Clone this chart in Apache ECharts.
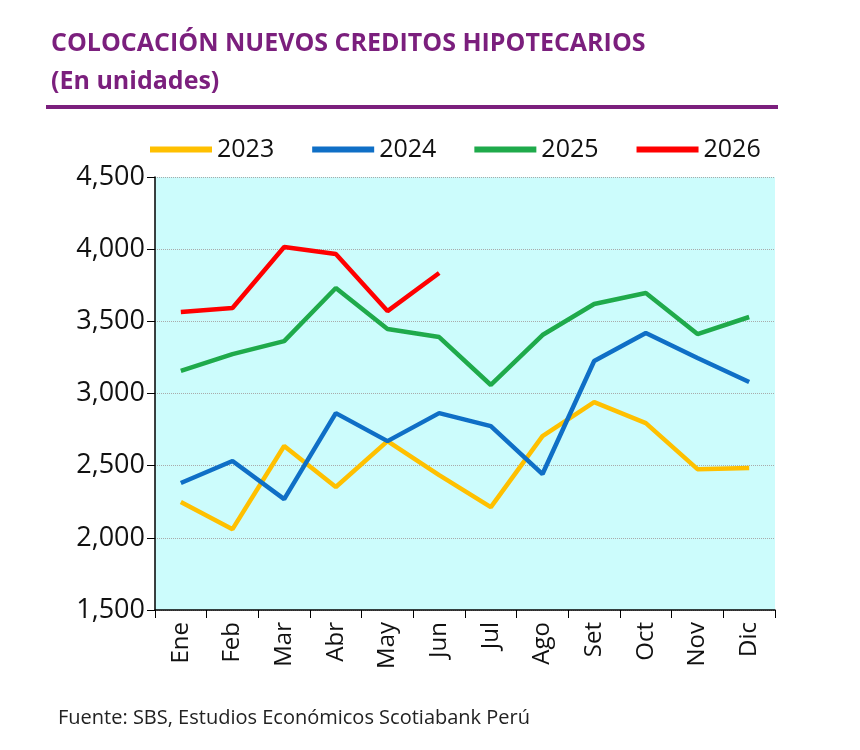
<!DOCTYPE html>
<html>
<head>
<meta charset="utf-8">
<script src="https://cdn.jsdelivr.net/npm/echarts@6/dist/echarts.min.js"></script>
<style>body{margin:0;background:#fff}#c{width:860px;height:750px}</style>
</head>
<body>
<div id="c"></div>
<script>
var months = ['Ene','Feb','Mar','Abr','May','Jun','Jul','Ago','Set','Oct','Nov','Dic']
var data = {
  '2023': [2248,2060,2636,2352,2670,2435,2213,2705,2940,2795,2476,2483],
  '2024': [2380,2532,2268,2864,2670,2864,2774,2442,3225,3419,3246,3080],
  '2025': [3156,3273,3363,3731,3447,3391,3059,3405,3620,3696,3412,3530],
  '2026': [3564,3592,4015,3966,3571,3835]
}
var colors = {'2023':'#ffc000','2024':'#0f6fc6','2025':'#1faa4b','2026':'#ff0000'}
var chart = echarts.init(document.getElementById('c'))
chart.setOption({
  animation: false,
  title: {
    text: 'COLOCACIÓN NUEVOS CREDITOS HIPOTECARIOS\n(En unidades)',
    left: 46, top: 20,
    textStyle: {color:'#7b1f7d', fontSize:25, fontWeight:'bold', fontFamily:'Open Sans', lineHeight:38}
  },
  graphic: [
    {type:'line', shape:{x1:46,y1:107,x2:778,y2:107}, style:{stroke:'#7b1f7d', lineWidth:4}},
    {type:'text', left:58, top:708, style:{text:'Fuente: SBS, Estudios Económicos Scotiabank Perú', fontSize:20, fill:'#222', fontFamily:'Open Sans'}}
  ],
  legend: {
    top: 132, left: 145, itemWidth: 62, itemHeight: 6, itemGap: 38,
    textStyle: {fontSize:25, color:'#111', fontFamily:'Open Sans'},
    icon: 'rect'
  },
  grid: {left:155, right:85, top:177, bottom:140, backgroundColor:'#ccfcfc', show:true, borderWidth:0},
  xAxis: {
    type:'category', data: months, boundaryGap:true,
    axisLine:{lineStyle:{color:'#000', width:1.5}},
    axisTick:{show:true, length:8, lineStyle:{color:'#000'}, interval:0},
    axisLabel:{rotate:90, fontSize:24, color:'#111', margin:12, fontFamily:'Open Sans', interval:0}
  },
  yAxis: {
    type:'value', min:1500, max:4500, interval:500,
    axisLine:{show:true, lineStyle:{color:'#000', width:1.5}},
    axisTick:{show:true, length:8, lineStyle:{color:'#000'}},
    axisLabel:{fontSize:27, color:'#111', margin:10, fontFamily:'Open Sans',
      formatter:function(v){return v.toLocaleString('en-US')}},
    splitLine:{lineStyle:{color:'#aaa', type:'dotted'}}
  },
  series: Object.keys(data).map(function(k){
    return {name:k, type:'line', data:data[k], symbol:'none',
      lineStyle:{width:4.5, color:colors[k]}, itemStyle:{color:colors[k]}}
  })
})
</script>
</body>
</html>
